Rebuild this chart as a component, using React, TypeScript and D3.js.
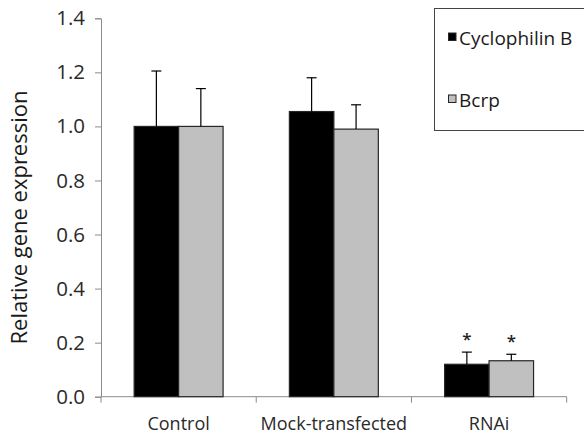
import React, { useEffect, useRef } from 'react';
import * as d3 from 'd3';

const categories = ['Control', 'Mock-transfected', 'RNAi'];
const seriesNames = ['Cyclophilin B', 'Bcrp'];
const seriesColors = ['#000000', '#c0c0c0'];
const cyclophilinB = [1.0, 1.055, 0.12];
const bcrp = [1.0, 0.99, 0.133];
const cyclophilinBErr = [0.205, 0.125, 0.045];
const bcrpErr = [0.14, 0.09, 0.024];
const significant = [false, false, true];
const yTicks = [0, 0.2, 0.4, 0.6, 0.8, 1.0, 1.2, 1.4];

const FONT = '"Open Sans", sans-serif';

const App = () => {
  const ref = useRef(null);

  useEffect(() => {
    const W = 584, H = 443;
    const svg = d3.select(ref.current);
    svg.selectAll('*').remove();

    const left = 101, right = 566.7, top = 18.3, bottom = 396.7;

    const y = d3.scaleLinear().domain([0, 1.4]).range([bottom, top]);
    const x0 = d3.scaleBand()
      .domain(categories)
      .range([left, right])
      .paddingInner(0.427)
      .paddingOuter(0.2135);
    const x1 = d3.scaleBand().domain(seriesNames).range([0, x0.bandwidth()]);

    const values = [cyclophilinB, bcrp];
    const errs = [cyclophilinBErr, bcrpErr];

    // y axis
    const yAxis = svg.append('g')
      .attr('transform', `translate(${left},0)`)
      .attr('font-size', null)
      .call(d3.axisLeft(y).tickValues(yTicks).tickFormat(d3.format('.1f')).tickSize(6).tickPadding(10));
    yAxis.attr('font-size', 20.5).attr('font-family', FONT);
    yAxis.select('.domain').attr('stroke', '#8c8c8c');
    yAxis.selectAll('.tick line').attr('stroke', '#8c8c8c');
    yAxis.selectAll('.tick text')
      .style('font-size', '20.5px')
      .style('font-family', FONT)
      .attr('fill', '#2a2a2a');

    // x axis
    const step = x0.step();
    const xTicks = d3.range(categories.length + 1).map(i => left + i * step);
    svg.append('line')
      .attr('x1', left).attr('x2', right)
      .attr('y1', bottom).attr('y2', bottom)
      .attr('stroke', '#8c8c8c');
    svg.selectAll('.xtick')
      .data(xTicks)
      .enter()
      .append('line')
      .attr('x1', d => d).attr('x2', d => d)
      .attr('y1', bottom).attr('y2', bottom + 6)
      .attr('stroke', '#8c8c8c');
    svg.selectAll('.xlabel')
      .data(categories)
      .enter()
      .append('text')
      .attr('x', d => x0(d) + x0.bandwidth() / 2)
      .attr('y', 430)
      .attr('text-anchor', 'middle')
      .attr('font-family', FONT)
      .attr('font-size', 18)
      .attr('fill', '#2a2a2a')
      .text(d => d);

    // bars
    seriesNames.forEach((s, si) => {
      const g = svg.append('g');
      g.selectAll('rect')
        .data(categories)
        .enter()
        .append('rect')
        .attr('x', d => x0(d) + x1(s))
        .attr('y', (d, i) => y(values[si][i]))
        .attr('width', x1.bandwidth())
        .attr('height', (d, i) => bottom - y(values[si][i]))
        .attr('fill', seriesColors[si])
        .attr('stroke', '#262626')
        .attr('stroke-width', 1.2);

      // error bars
      categories.forEach((c, i) => {
        const cx = x0(c) + x1(s) + x1.bandwidth() / 2;
        const yv = y(values[si][i]);
        const ye = y(values[si][i] + errs[si][i]);
        g.append('line')
          .attr('x1', cx).attr('x2', cx)
          .attr('y1', yv).attr('y2', ye)
          .attr('stroke', '#000').attr('stroke-width', 1.2);
        g.append('line')
          .attr('x1', cx - 5).attr('x2', cx + 5)
          .attr('y1', ye).attr('y2', ye)
          .attr('stroke', '#000').attr('stroke-width', 1.2);
        if (significant[i]) {
          g.append('text')
            .attr('x', cx)
            .attr('y', ye - 7)
            .attr('text-anchor', 'middle')
            .attr('font-family', FONT)
            .attr('font-size', 17)
            .attr('font-weight', 600)
            .attr('fill', '#222')
            .text('*');
        }
      });
    });

    // y label
    svg.append('text')
      .attr('transform', `translate(27,${(90 + 345) / 2}) rotate(-90)`)
      .attr('text-anchor', 'middle')
      .attr('font-family', FONT)
      .attr('font-size', 22)
      .attr('fill', '#1a1a1a')
      .text('Relative gene expression');

    // legend
    svg.append('rect')
      .attr('x', 434.5).attr('y', 8.5)
      .attr('width', 170).attr('height', 122)
      .attr('fill', 'none')
      .attr('stroke', '#444');
    const legendY = [45, 107];
    seriesNames.forEach((s, si) => {
      svg.append('rect')
        .attr('x', 448.5).attr('y', legendY[si] - 12)
        .attr('width', 7.5).attr('height', 7.5)
        .attr('fill', seriesColors[si])
        .attr('stroke', '#262626');
      svg.append('text')
        .attr('x', 459)
        .attr('y', legendY[si])
        .attr('font-family', FONT)
        .attr('font-size', 19)
        .attr('fill', '#1a1a1a')
        .text(s);
    });

    svg.attr('width', W).attr('height', H);
  }, []);

  return (
    <svg
      ref={ref}
      width={584}
      height={443}
      style={{ position: 'absolute', left: 0, top: 0, background: '#fff' }}
    />
  );
};

export default App;
